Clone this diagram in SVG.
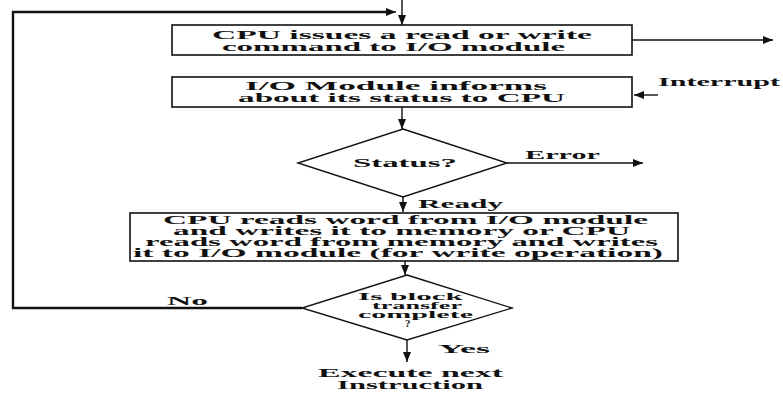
<svg xmlns="http://www.w3.org/2000/svg" width="783" height="396" viewBox="0 0 783 396">
  <style>
    .box { fill: #ffffff; stroke: #111111; stroke-width: 1.6; }
    .dia { fill: #ffffff; stroke: #111111; stroke-width: 1.4; }
    .ln { fill: none; stroke: #111111; stroke-width: 1.4; }
    .loop { fill: none; stroke: #111111; stroke-width: 2.4; }
    text { font-family: "Liberation Serif", "Times New Roman", serif; font-weight: bold; font-size: 13px; fill: #111111; }
    .md { font-size: 12px; }
    .sm { font-size: 11px; }
  </style>
  <defs>
    <marker id="arrow" viewBox="0 0 10 8" refX="10" refY="4" markerWidth="10" markerHeight="8" markerUnits="userSpaceOnUse" orient="auto">
      <path d="M0,0 L10,4 L0,8 Z" fill="#111111"/>
    </marker>
  </defs>

  <!-- connectors and their labels -->
  <g id="connectors">
    <line class="ln" x1="402" y1="0" x2="402" y2="25" marker-end="url(#arrow)"/>
    <polyline class="loop" points="302,308 13,308 13,12 390,12"/>
    <line class="ln" x1="388" y1="12" x2="396" y2="12" marker-end="url(#arrow)"/>
    <line class="ln" x1="632" y1="40" x2="773" y2="40" marker-end="url(#arrow)"/>
    <line class="ln" x1="658" y1="95" x2="634" y2="95" marker-end="url(#arrow)"/>
    <line class="ln" x1="402" y1="107" x2="402" y2="129" marker-end="url(#arrow)"/>
    <line class="ln" x1="507" y1="163" x2="643" y2="163" marker-end="url(#arrow)"/>
    <line class="ln" x1="403" y1="197" x2="403" y2="212" marker-end="url(#arrow)"/>
    <line class="ln" x1="405" y1="261" x2="405" y2="275" marker-end="url(#arrow)"/>
    <line class="ln" x1="407" y1="340" x2="407" y2="362" marker-end="url(#arrow)"/>
    <text x="525" y="159" textLength="75" lengthAdjust="spacingAndGlyphs">Error</text>
    <text x="418" y="208" textLength="85" lengthAdjust="spacingAndGlyphs">Ready</text>
    <text x="658" y="86" textLength="122" lengthAdjust="spacingAndGlyphs">Interrupt</text>
    <text x="167" y="305" textLength="41" lengthAdjust="spacingAndGlyphs">No</text>
    <text x="438" y="353" textLength="52" lengthAdjust="spacingAndGlyphs">Yes</text>
  </g>

  <g id="issue-command">
    <rect class="box" x="172" y="25" width="460" height="30"/>
    <text><tspan x="212" y="39" textLength="380" lengthAdjust="spacingAndGlyphs">CPU issues a read or write</tspan><tspan x="222" y="51" textLength="343" lengthAdjust="spacingAndGlyphs">command to I/O module</tspan></text>
  </g>

  <g id="status-report">
    <rect class="box" x="172" y="77" width="460" height="30"/>
    <text><tspan x="245" y="90" textLength="302" lengthAdjust="spacingAndGlyphs">I/O Module informs</tspan><tspan x="238" y="102" textLength="327" lengthAdjust="spacingAndGlyphs">about its status to CPU</tspan></text>
  </g>

  <g id="status-check">
    <polygon class="dia" points="403,129 507,163 403,197 298,163"/>
    <text x="353" y="167" textLength="104" lengthAdjust="spacingAndGlyphs">Status?</text>
  </g>

  <g id="transfer-word">
    <rect class="box" x="130" y="213" width="548" height="48"/>
    <text class="md"><tspan x="163" y="224" textLength="485" lengthAdjust="spacingAndGlyphs">CPU reads word from I/O module</tspan><tspan x="173" y="235" textLength="457" lengthAdjust="spacingAndGlyphs">and writes it to memory or CPU</tspan><tspan x="145" y="246" textLength="513" lengthAdjust="spacingAndGlyphs">reads word from memory and writes</tspan><tspan x="133" y="257" textLength="530" lengthAdjust="spacingAndGlyphs">it to I/O module (for write operation)</tspan></text>
  </g>

  <g id="block-check">
    <polygon class="dia" points="407,275 512,308 407,340 302,308"/>
    <text class="sm"><tspan x="358" y="300" textLength="105" lengthAdjust="spacingAndGlyphs">Is block</tspan><tspan x="372" y="309" textLength="90" lengthAdjust="spacingAndGlyphs">transfer</tspan><tspan x="358" y="318" textLength="115" lengthAdjust="spacingAndGlyphs">complete</tspan><tspan x="405" y="327">?</tspan></text>
  </g>

  <g id="next-instruction">
    <text><tspan x="318" y="377" textLength="185" lengthAdjust="spacingAndGlyphs">Execute next</tspan><tspan x="337" y="389" textLength="146" lengthAdjust="spacingAndGlyphs">Instruction</tspan></text>
  </g>
</svg>
